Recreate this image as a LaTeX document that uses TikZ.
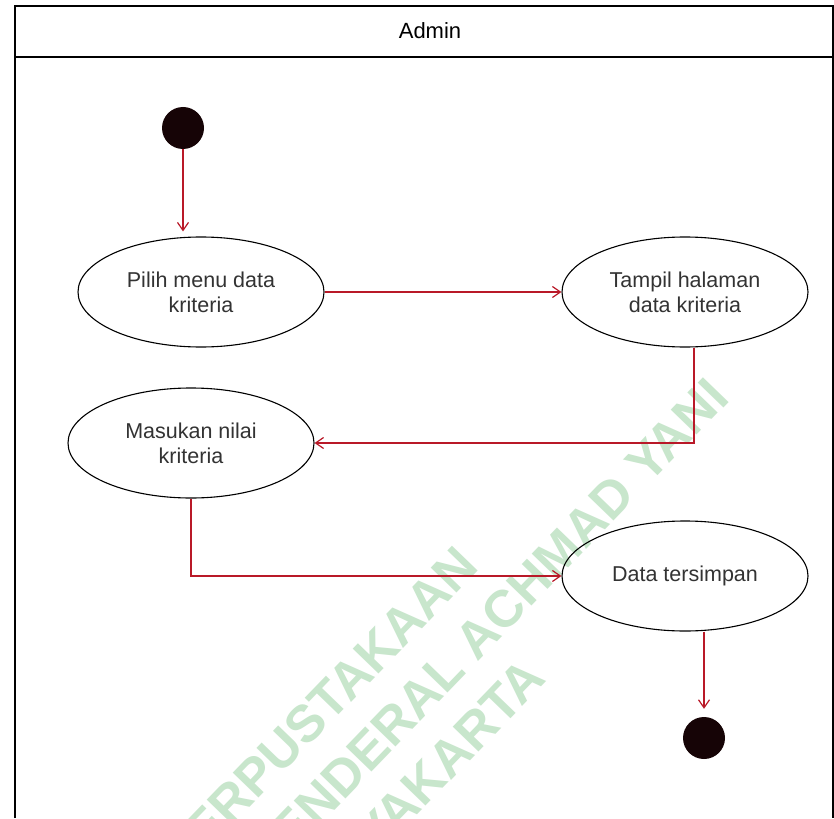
\documentclass[tikz,border=0pt]{standalone}
\usepackage{fontspec}
\setmainfont{Liberation Sans}
\usetikzlibrary{shapes.geometric,arrows.meta}
\definecolor{flowred}{RGB}{185,25,40}
\definecolor{txtgray}{RGB}{51,51,51}
\definecolor{wmgreen}{RGB}{200,230,204}
\definecolor{dotblack}{RGB}{22,4,6}
\begin{document}
\begin{tikzpicture}[x=1pt,y=-1pt,
  act/.style={ellipse,draw=black,line width=1.1pt,minimum width=246pt,minimum height=110pt,inner sep=0pt,align=center,text=txtgray,font=\fontsize{21.5}{25}\selectfont},
  dot/.style={circle,fill=dotblack,minimum size=42pt,inner sep=0pt},
  flow/.style={draw=flowred,line width=1.2pt,-{Straight Barb[length=8pt,width=11pt]}},
  frame/.style={draw=black,line width=1.3pt},
  wm/.style={text=wmgreen,font=\bfseries\fontsize{52}{63}\selectfont,align=center,rotate=46},
  hdr/.style={text=black,font=\fontsize{22}{26}\selectfont}]
\useasboundingbox (0,0) rectangle (834,818);
\fill[white] (0,0) rectangle (834,818);
\begin{scope}
  \clip (0,0) rectangle (834,818);
  \node[wm] (wmark) at (364,754) {PERPUSTAKAAN\\UNIVERSITAS JENDERAL ACHMAD YANI\\YOGYAKARTA};
\end{scope}
% swimlane frame
\draw[frame] (15,818) -- (15,6) -- (833,6) -- (833,818);
\draw[frame] (15,57) -- (833,57);
\node[hdr] (admin) at (430,31) {Admin};
% nodes
\node[dot] (start) at (183,128) {};
\node[act] (e1) at (201,292) {Pilih menu data\\kriteria};
\node[act] (e2) at (685,292) {Tampil halaman\\data kriteria};
\node[act] (e3) at (191,443) {Masukan nilai\\kriteria};
\node[act] (e4) at (685,576) {Data tersimpan};
\node[dot] (end) at (704,738) {};
% connectors
\draw[flow,shorten >=5pt] (start.south) -- (start |- e1.north);
\draw[flow] (e1.east) -- (e2.west);
\draw[flow] ([xshift=9pt]e2.south) |- (e3.east);
\draw[flow] (e3.south) |- (e4.west);
\draw[flow,shorten >=8pt] (end |- e4.south) -- (end.north);
\end{tikzpicture}
\end{document}
